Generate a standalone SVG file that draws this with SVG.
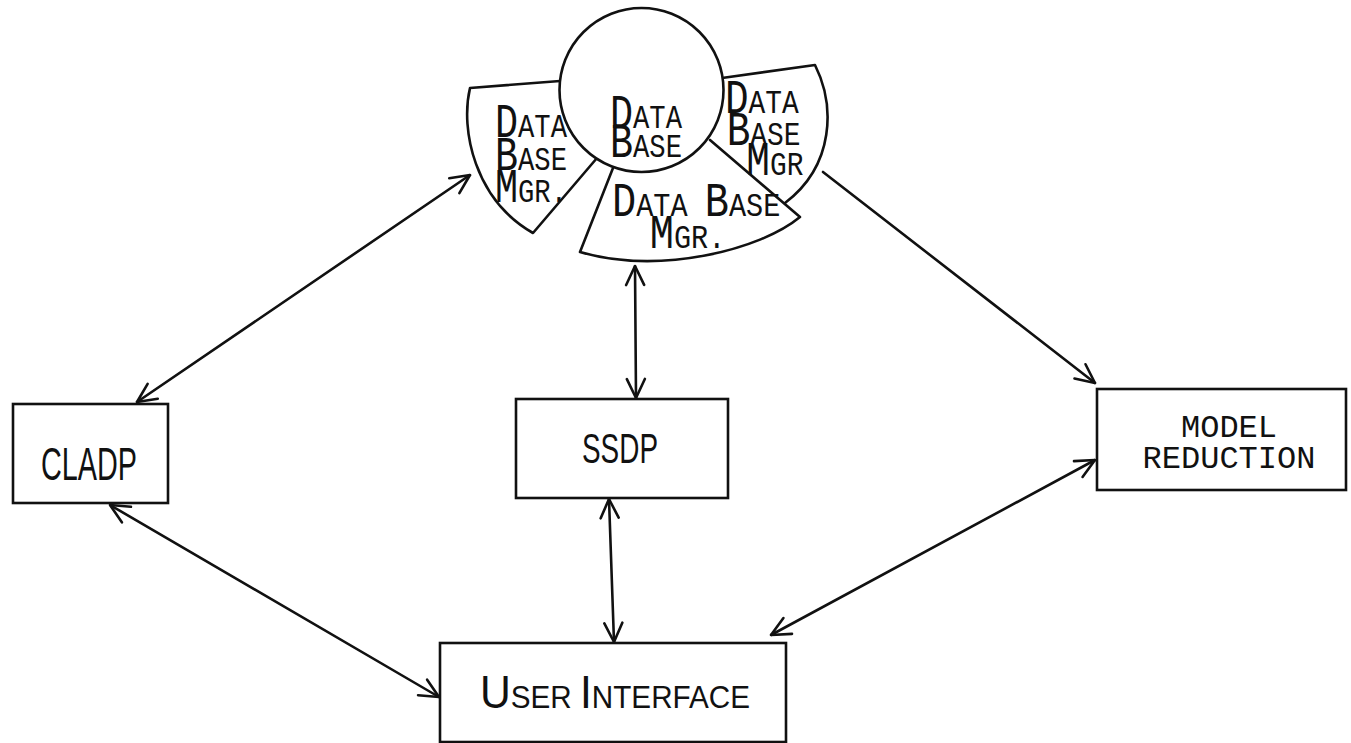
<svg xmlns="http://www.w3.org/2000/svg" width="1351" height="743" viewBox="0 0 1351 743">
<defs>
<style>
.sh{fill:none;stroke:#111;stroke-width:2.6;stroke-linejoin:round;stroke-linecap:round}
.bx{fill:#fff;stroke:#111;stroke-width:2.6}
.cn{fill:none;stroke:#111;stroke-width:2.6;stroke-linecap:round}
.db{font-family:"Liberation Mono","DejaVu Sans Mono",monospace;fill:#111}
.big{font-size:48px}
.sm{font-size:34px}
.cond{font-family:"Liberation Sans","DejaVu Sans",sans-serif;fill:#111}
.mono{font-family:"Liberation Mono","DejaVu Sans Mono",monospace;font-size:32px;fill:#111}
</style>
<marker id="ah" viewBox="0 0 22 22" refX="21" refY="11" markerWidth="22" markerHeight="22" markerUnits="userSpaceOnUse" orient="auto-start-reverse">
<path d="M2,2 L21,11 L2,20" fill="none" stroke="#111" stroke-width="2.6" stroke-linecap="round" stroke-linejoin="round"/>
</marker>
</defs>
<rect width="1351" height="743" fill="#fff"/>

<g id="connectors">
<line class="cn" x1="470" y1="175" x2="137" y2="402" marker-start="url(#ah)" marker-end="url(#ah)"/>
<line class="cn" x1="635" y1="266" x2="636" y2="398" marker-start="url(#ah)" marker-end="url(#ah)"/>
<line class="cn" x1="823" y1="172" x2="1095" y2="383" marker-end="url(#ah)"/>
<line class="cn" x1="110" y1="505" x2="439" y2="697" marker-start="url(#ah)" marker-end="url(#ah)"/>
<line class="cn" x1="609" y1="499" x2="614" y2="642" marker-start="url(#ah)" marker-end="url(#ah)"/>
<line class="cn" x1="1095" y1="460" x2="771" y2="635" marker-start="url(#ah)" marker-end="url(#ah)"/>
</g>

<g id="dbmgr-left">
<path class="sh" d="M560 81 L470 88 C460 130 475 200 533 233 L597 158"/>
<text class="db" transform="translate(495 0) scale(0.8 1)"><tspan x="0" y="137"><tspan class="big">D</tspan><tspan class="sm">ATA</tspan></tspan><tspan x="0" y="170"><tspan class="big">B</tspan><tspan class="sm">ASE</tspan></tspan><tspan x="0" y="202"><tspan class="big">M</tspan><tspan class="sm">GR.</tspan></tspan></text>
</g>

<g id="dbmgr-right">
<path class="sh" d="M722 78 L815 65 C835 105 835 165 785 203"/>
<text class="db" transform="translate(725 0) scale(0.82 1)"><tspan x="0" y="113"><tspan class="big">D</tspan><tspan class="sm">ATA</tspan></tspan><tspan x="2" y="145"><tspan class="big">B</tspan><tspan class="sm">ASE</tspan></tspan><tspan x="26" y="175"><tspan class="big">M</tspan><tspan class="sm">GR</tspan></tspan></text>
</g>

<g id="dbmgr-bottom">
<path class="sh" d="M613 168 L580 252 C660 275 760 250 800 217 L710 140"/>
<text class="db" transform="translate(612 0) scale(0.84 1)"><tspan x="0" y="216"><tspan class="big">D</tspan><tspan class="sm">ATA </tspan><tspan class="big">B</tspan><tspan class="sm">ASE</tspan></tspan><tspan x="45" y="248"><tspan class="big">M</tspan><tspan class="sm">GR.</tspan></tspan></text>
</g>

<g id="database">
<circle cx="641.5" cy="90" r="82" fill="#fff" stroke="#111" stroke-width="2.6"/>
<text class="db" transform="translate(610 0) scale(0.8 1)"><tspan x="0" y="128"><tspan class="big">D</tspan><tspan class="sm">ATA</tspan></tspan><tspan x="0" y="157"><tspan class="big">B</tspan><tspan class="sm">ASE</tspan></tspan></text>
</g>

<g id="cladp">
<rect class="bx" x="13" y="404" width="155" height="99"/>
<text class="cond" x="41" y="480" font-size="46" textLength="96" lengthAdjust="spacingAndGlyphs">CLADP</text>
</g>

<g id="ssdp">
<rect class="bx" x="516" y="399" width="212" height="99"/>
<text class="cond" x="582" y="463" font-size="42" textLength="76" lengthAdjust="spacingAndGlyphs">SSDP</text>
</g>

<g id="model-reduction">
<rect class="bx" x="1097" y="389" width="249" height="101"/>
<text class="mono" x="1229" y="437" text-anchor="middle">MODEL</text>
<text class="mono" x="1229" y="468" text-anchor="middle">REDUCTION</text>
</g>

<g id="user-interface">
<rect class="bx" x="440" y="643" width="346" height="99"/>
<text class="cond" x="480" y="708" textLength="270" lengthAdjust="spacingAndGlyphs"><tspan font-size="46">U</tspan><tspan font-size="32">SER </tspan><tspan font-size="46">I</tspan><tspan font-size="32">NTERFACE</tspan></text>
</g>
</svg>
